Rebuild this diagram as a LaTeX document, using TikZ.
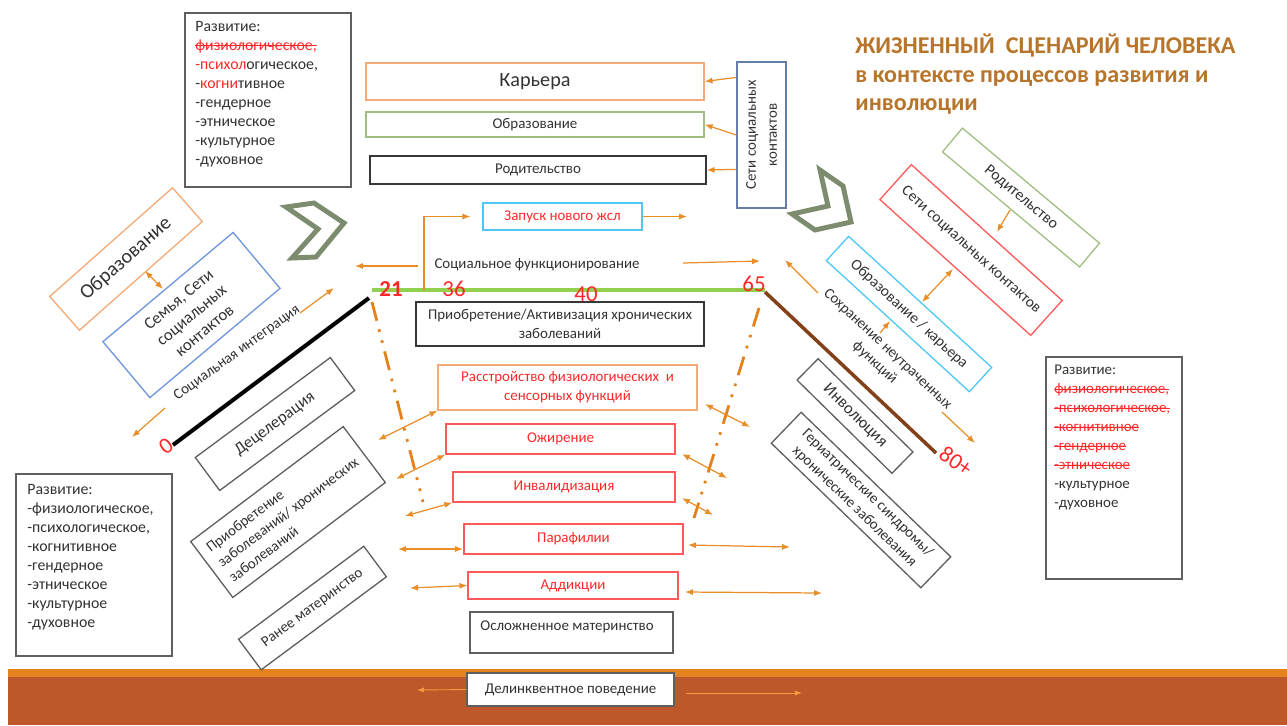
\documentclass[tikz,border=0pt]{standalone}
\usepackage{fontspec}
\setmainfont{Carlito}
\usepackage{tikz}
\usetikzlibrary{arrows.meta,positioning,calc,shadows}
\definecolor{lsArrow}{RGB}{232,142,40}
\definecolor{lsBandArrow}{RGB}{242,155,60}
\definecolor{lsDash}{RGB}{228,130,25}
\definecolor{lsOrange}{RGB}{244,170,120}
\definecolor{lsGreen}{RGB}{160,190,130}
\definecolor{lsDark}{RGB}{55,55,55}
\definecolor{lsGray}{RGB}{95,95,95}
\definecolor{lsSlate}{RGB}{100,125,170}
\definecolor{lsBlue}{RGB}{110,150,220}
\definecolor{lsCyan}{RGB}{80,200,245}
\definecolor{lsRed}{RGB}{255,90,90}
\definecolor{lsTxtRed}{RGB}{255,40,40}
\definecolor{lsTxt}{RGB}{50,50,50}
\definecolor{lsTitle}{RGB}{183,117,43}
\definecolor{lsChevron}{RGB}{125,140,110}
\definecolor{lsLifeGreen}{RGB}{146,208,80}
\definecolor{lsLifeBrown}{RGB}{130,65,25}
\definecolor{lsBand}{RGB}{188,88,42}
\definecolor{lsBandTop}{RGB}{230,130,30}
\newcommand{\fsmall}{\fontsize{8.5}{10.8}\selectfont}
\newcommand{\fdev}{\fontsize{9}{10.8}\selectfont}
\newcommand{\fmid}{\fontsize{9.5}{11.5}\selectfont}
\newcommand{\fbig}{\fontsize{11.5}{13}\selectfont}
\newcommand{\ftitle}{\fontsize{13.7}{16}\selectfont\bfseries}
\newcommand{\fnum}{\fontsize{13}{15}\selectfont}
\newcommand{\strk}[1]{\setbox0=\hbox{#1}\rlap{\raisebox{0.27em}{\rule{\wd0}{0.55pt}}}\box0}

\begin{document}
\begin{tikzpicture}[x=0.02cm, y=-0.02cm, >=Latex, font=\fsmall, text=lsTxt]
\tikzstyle{box}=[draw, line width=0.75pt, inner sep=1pt, align=center]
\tikzstyle{devbox}=[draw=lsGray, line width=0.9pt, inner sep=0pt]
\tikzstyle{devtext}=[inner sep=0pt, align=left, font=\fdev]
\tikzstyle{plain}=[inner sep=1pt, align=center]
\tikzstyle{agenum}=[inner sep=0pt, text=lsTxtRed, font=\fnum]
\tikzstyle{titletext}=[inner sep=0pt, text=lsTitle, font=\ftitle]
\tikzstyle{arr}=[draw=lsArrow, line width=0.7pt, -{Latex[length=4.5pt,width=3.5pt]}]
\tikzstyle{darr}=[draw=lsArrow, line width=0.7pt, {Latex[length=4.5pt,width=3.5pt]}-{Latex[length=4.5pt,width=3.5pt]}]
\tikzstyle{bandarr}=[draw=lsBandArrow, line width=0.5pt, -{Latex[length=4pt,width=3pt]}]
\tikzstyle{dashdot}=[draw=lsDash, line width=1.6pt, dash pattern=on 11pt off 5pt on 1.5pt off 5pt on 1.5pt off 5pt]
\tikzstyle{chevron}=[draw=lsChevron, line width=2.8pt, line join=miter]
\useasboundingbox (0,0) rectangle (1287,725);

% bottom band
\fill[lsBand] (8,676) rectangle (1287,725);
\fill[lsBandTop] (8,669) rectangle (1287,677);

% title
\node[titletext, anchor=base west] (title1) at (855,53) {ЖИЗНЕННЫЙ\ \ СЦЕНАРИЙ ЧЕЛОВЕКА};
\node[titletext, anchor=base west] (title2) at (855,82) {в контексте процессов развития и};
\node[titletext, anchor=base west] (title3) at (855,110) {инволюции};

% development boxes
\node[devbox, anchor=north west, minimum width=3.32cm, minimum height=3.48cm] (devT) at (184,12) {};
\node[devtext, anchor=north west] (devTtxt) at (195,21) {Развитие:\\
  \textcolor{lsTxtRed}{\strk{физиологическое,}}\\
  \textcolor{lsTxtRed}{-психол}огическое,\\
  -\textcolor{lsTxtRed}{когни}тивное\\
  -гендерное\\ -этническое\\ -культурное\\ -духовное};
\node[devbox, anchor=north west, minimum width=3.12cm, minimum height=3.64cm] (devL) at (15,473) {};
\node[devtext, anchor=north west] (devLtxt) at (27,484) {Развитие:\\ -физиологическое,\\ -психологическое,\\ -когнитивное\\ -гендерное\\ -этническое\\ -культурное\\ -духовное};
\node[devbox, anchor=north west, minimum width=2.72cm, minimum height=4.44cm] (devR) at (1045,356) {};
\node[devtext, anchor=north west, font=\fsmall] (devRtxt) at (1054,365) {Развитие:\\
  \textcolor{lsTxtRed}{\strk{физиологическое,}}\\
  \textcolor{lsTxtRed}{\strk{-психологическое,}}\\
  \textcolor{lsTxtRed}{\strk{-когнитивное}}\\
  \textcolor{lsTxtRed}{\strk{-гендерное}}\\
  \textcolor{lsTxtRed}{\strk{-этническое}}\\
  -культурное\\ -духовное};

% top stack
\node[box, draw=lsOrange, minimum width=6.76cm, minimum height=0.74cm, font=\fbig] (career) at (535,81.5) {Карьера};
\node[box, draw=lsGreen, minimum width=6.76cm, minimum height=0.5cm] (eduT) at (535,124.5) {Образование};
\node[box, draw=lsDark, minimum width=6.72cm, minimum height=0.56cm] (parT) at (538,170) {Родительство};
\node[box, draw=lsSlate, rotate=90, minimum width=2.92cm, minimum height=0.98cm, font=\fontsize{8.5}{12}\selectfont] (netV) at (761.5,135) {Сети социальных\\контактов};
\draw[arr] ($(netV.north east)+(0,16)$) -- (career.east);
\draw[arr] (netV.north) -- (eduT.east);
\draw[arr] ($(netV.north east)+(0,108)$) -- (parT.east);

% chevrons
\draw[chevron] (286,207) -- (314,203) -- (344,223) -- (316,257) -- (292,258) -- (318,229) -- cycle;
\draw[chevron] (820,170) -- (843,186) -- (851,222) -- (815,230) -- (792,214) -- (828,206) -- cycle;

% centre column
\node[box, draw=lsCyan, text=lsTxtRed, minimum width=3.18cm, minimum height=0.54cm] (launch) at (562.5,216.5) {Запуск нового жсл};
\node[plain] (socfun) at (537,265) {Социальное функционирование};
\node[box, draw=lsDark, minimum width=5.76cm, minimum height=0.88cm] (acqC) at (560,324) {Приобретение/Активизация хронических\\заболеваний};
\node[box, draw=lsOrange, text=lsTxtRed, minimum width=5.18cm, minimum height=0.9cm] (disorder) at (567.5,387.5) {Расстройство физиологических\ \ и\\сенсорных функций};
\node[box, draw=lsRed, text=lsTxtRed, minimum width=4.58cm, minimum height=0.6cm] (obes) at (560.5,439) {Ожирение};
\node[box, draw=lsRed, text=lsTxtRed, minimum width=4.44cm, minimum height=0.6cm] (disab) at (564,487) {Инвалидизация};
\node[box, draw=lsRed, text=lsTxtRed, minimum width=4.38cm, minimum height=0.6cm] (paraph) at (573.5,539) {Парафилии};
\node[box, draw=lsRed, text=lsTxtRed, minimum width=4.2cm, minimum height=0.54cm] (addict) at (573,585.5) {Аддикции};
\node[box, draw=lsGray, minimum width=4.06cm, minimum height=0.82cm] (compM) at (571.5,632.5) {};
\node[plain] (compMtxt) at (567,627) {Осложненное материнство};
\node[box, draw=lsGray, fill=white, drop shadow={shadow xshift=0.6pt, shadow yshift=-0.8pt, opacity=0.6}, minimum width=4.14cm, minimum height=0.66cm] (delinq) at (570.5,689.5) {Делинквентное поведение};

% left wing
\node[box, draw=lsOrange, rotate=41.5, minimum width=3.28cm, minimum height=0.9cm, font=\fbig] (eduL) at (126,259) {Образование};
\node[box, draw=lsBlue, rotate=40, minimum width=3.4cm, minimum height=1.46cm, font=\fmid] (famL) at (191.5,315) {Семья, Сети\\социальных\\контактов};
\node[plain, rotate=36] (socint) at (237,353) {Социальная интеграция};
\node[box, draw=lsGray, rotate=36.5, minimum width=3.36cm, minimum height=0.82cm, font=\fmid] (decel) at (275,424) {Децелерация};
\node[box, draw=lsGray, rotate=37, minimum width=3.82cm, minimum height=1.4cm, align=left] (acqL) at (288,512) {Приобретение\\заболеваний/ хронических\\заболеваний};
\node[box, draw=lsGray, rotate=36.6, minimum width=3.12cm, minimum height=0.76cm] (earlyM) at (312.5,608) {Ранее материнство};

% right wing
\node[box, draw=lsGreen, rotate=-40, minimum width=3.58cm, minimum height=0.62cm, font=\fontsize{9}{11}\selectfont] (parR) at (1021,197.5) {Родительство};
\node[box, draw=lsRed, rotate=-42, minimum width=4.06cm, minimum height=0.94cm, font=\fontsize{8.8}{11}\selectfont] (netR) at (971,250) {Сети социальных контактов};
\node[box, draw=lsCyan, rotate=-42.5, minimum width=3.88cm, minimum height=0.66cm, font=\fontsize{8.8}{11}\selectfont] (eduR) at (909,314) {Образование / карьера};
\node[plain, rotate=-43] (keep) at (881,356) {Сохранение неутраченных\\функций};
\node[box, draw=lsGray, rotate=-44.5, minimum width=2.66cm, minimum height=0.6cm, font=\fmid] (invol) at (855,416) {Инволюция};
\node[box, draw=lsGray, rotate=-44, minimum width=4.16cm, minimum height=0.86cm] (geri) at (861,500) {Гериатрические синдромы/\\хронические заболевания};

% life line
\coordinate (age0) at (173,445);
\coordinate (age21) at (369,298);
\coordinate (g21) at (372,290);
\coordinate (g65) at (765,290);
\coordinate (age65) at (765,292);
\coordinate (age80) at (936,453);
\draw[line width=2.3pt, black] (age0) -- (age21);
\draw[line width=2.3pt, lsLifeGreen] (g21) -- (g65);
\draw[line width=2pt, lsLifeBrown] (age65) -- (age80);
\node[agenum, rotate=36] (n0) at (166,446) {0};
\node[agenum, font=\fnum\bfseries] (n21) at (391,289) {21};
\node[agenum] (n36) at (454,289) {36};
\node[agenum] (n40) at (586,294) {40};
\node[agenum] (n65) at (754,284) {65};
\node[agenum, rotate=-35] (n80) at (956,461) {80+};

% dash-dot funnel
\coordinate (ddL1) at (372,302);
\coordinate (ddL2) at (423,502);
\coordinate (ddR1) at (759,308);
\coordinate (ddR2) at (694,518);
\draw[dashdot] (ddL1) -- (ddL2);
\draw[dashdot] (ddR1) -- (ddR2);

% social functioning arrows
\coordinate (sfUp) at (424,290);
\coordinate (sfL0) at (418,266);
\coordinate (sfL1) at (355,266);
\coordinate (sfR0) at (683,263);
\coordinate (sfR1) at (760,261);
\coordinate (launchOut) at (687,216.5);
\draw[arr] (sfUp) |- ([xshift=-0.24cm]launch.west);
\draw[arr] (launch.east) -- (launchOut);
\draw[arr] (sfL0) -- (sfL1);
\draw[arr] (sfR0) -- (sfR1);

% left wing arrows
\coordinate (ef1) at (145,271);
\coordinate (ef2) at (163,289);
\coordinate (si0) at (300,313);
\coordinate (si1) at (334,288);
\coordinate (sd0) at (165,408);
\coordinate (sd1) at (132,437);
\draw[darr] (ef1) -- (ef2);
\draw[arr] (si0) -- (si1);
\draw[arr] (sd0) -- (sd1);

% right wing arrows
\coordinate (pr0) at (1010,210);
\coordinate (pr1) at (997,232);
\coordinate (nr0) at (953,269);
\coordinate (nr1) at (922,302);
\coordinate (kp0) at (880,333);
\coordinate (kp1) at (890,321);
\coordinate (ku0) at (818,293);
\coordinate (ku1) at (785,260);
\coordinate (kd0) at (942,412);
\coordinate (kd1) at (975,443);
\draw[arr] (pr0) -- (pr1);
\draw[darr] (nr0) -- (nr1);
\draw[arr] (kp0) -- (kp1);
\draw[arr] (ku0) -- (ku1);
\draw[arr] (kd0) -- (kd1);

% disorders arrows, left
\coordinate (dL1) at (378,440);
\coordinate (dL2) at (396,479);
\coordinate (dL3) at (405,516);
\coordinate (dL4a) at (463,549);
\coordinate (dL4) at (398,549);
\coordinate (dL5) at (410,588);
\draw[darr] (disorder.south west) -- (dL1);
\draw[darr] (obes.south west) -- (dL2);
\draw[darr] (disab.south west) -- (dL3);
\draw[darr] (dL4a) -- (dL4);
\draw[darr] (addict.west) -- (dL5);

% disorders arrows, right
\coordinate (dR1a) at (705,404);
\coordinate (dR1b) at (750,427);
\coordinate (dR2a) at (682,454);
\coordinate (dR2b) at (727,478);
\coordinate (dR3a) at (682,498);
\coordinate (dR3b) at (713,515);
\coordinate (dR4a) at (688,545);
\coordinate (dR4b) at (790,547);
\coordinate (dR5a) at (685,592);
\coordinate (dR5b) at (822,593);
\draw[darr] (dR1a) -- (dR1b);
\draw[darr] (dR2a) -- (dR2b);
\draw[darr] (dR3a) -- (dR3b);
\draw[darr] (dR4a) -- (dR4b);
\draw[darr] (dR5a) -- (dR5b);

% band arrows
\coordinate (bandL) at (417,690);
\coordinate (bandR0) at (686,693);
\coordinate (bandR1) at (802,693);
\draw[bandarr] (delinq.west) -- (bandL);
\draw[bandarr] (bandR0) -- (bandR1);
\end{tikzpicture}
\end{document}
